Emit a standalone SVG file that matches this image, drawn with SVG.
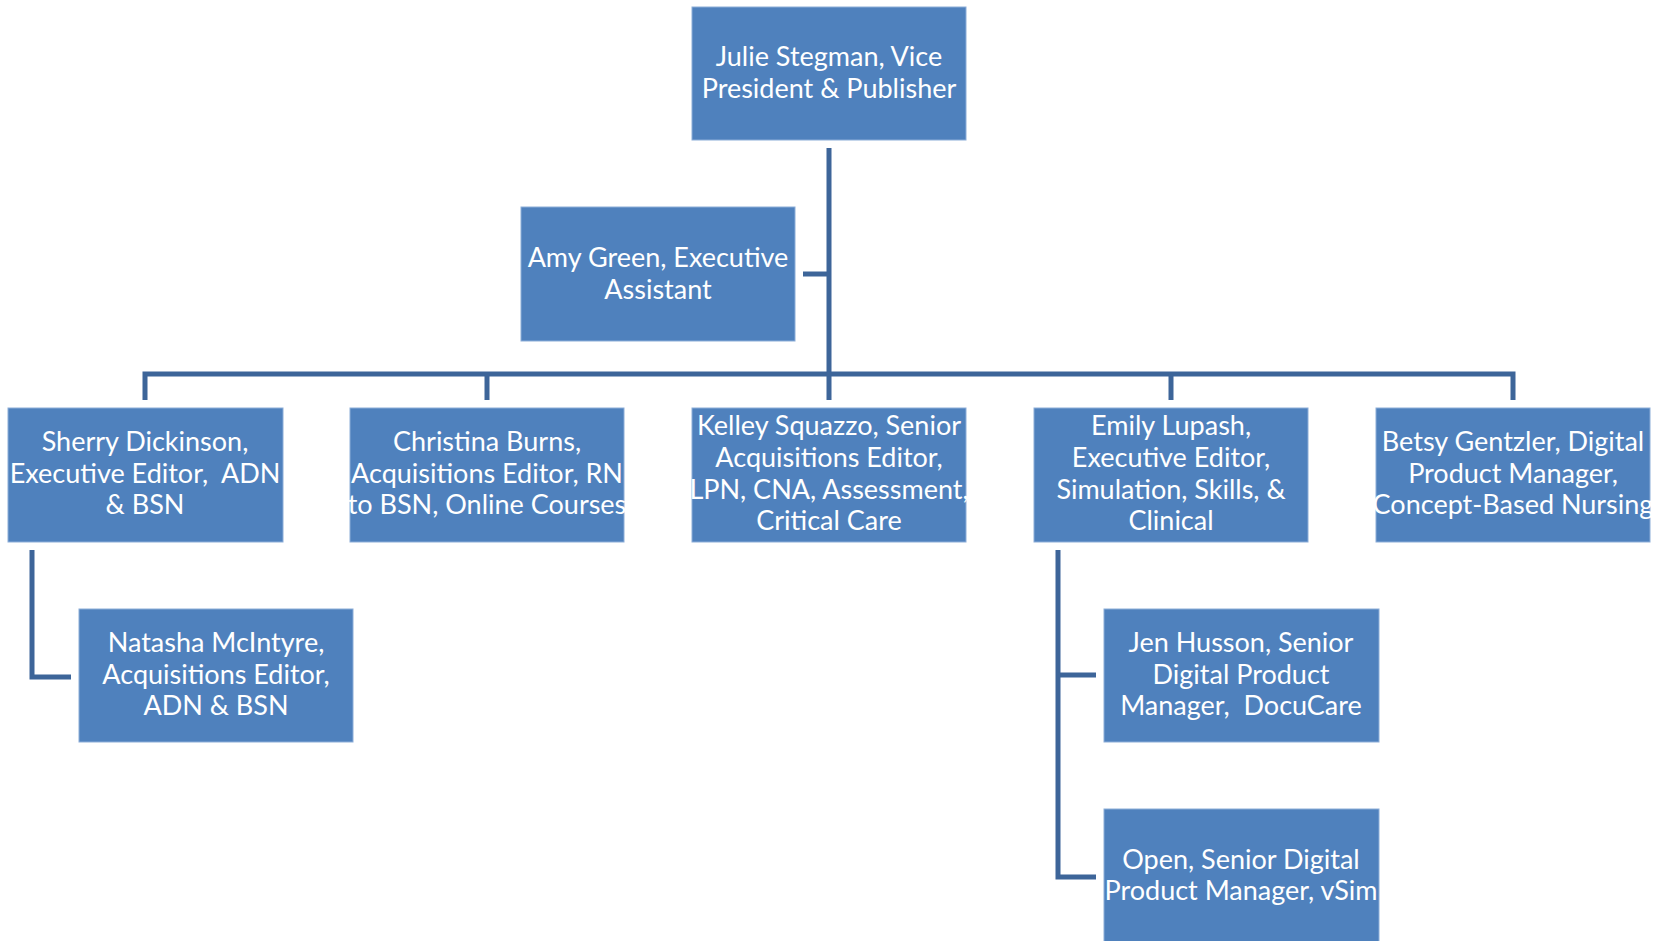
<svg xmlns="http://www.w3.org/2000/svg" width="1658" height="941" viewBox="0 0 1658 941">
<style>
.box{fill:#4F81BD;stroke:#8CADD8;stroke-width:1}
.t{font-family:Lato,"Open Sans",sans-serif;font-size:27px;fill:#FFFFFF;text-anchor:middle}
.c{fill:none;stroke:#3D6599;stroke-width:5;stroke-linejoin:miter;stroke-linecap:butt}
</style>
<rect width="1658" height="941" fill="#FFFFFF"/>
<g id="connectors">
<path class="c" d="M829,148 V400"/>
<path class="c" d="M145,400 V374 H1513 V400"/>
<path class="c" d="M487,374 V400"/>
<path class="c" d="M1171,374 V400"/>
<path class="c" d="M803,274 H829"/>
<path class="c" d="M32,550 V677 H71"/>
<path class="c" d="M1058,550 V877 H1096"/>
<path class="c" d="M1058,675 H1096"/>
</g>
<g id="julie">
<rect class="box" x="692" y="7" width="274" height="133"/>
<text class="t" x="829" y="66">Julie Stegman, Vice</text>
<text class="t" x="829" y="98">President &amp; Publisher</text>
</g>
<g id="amy">
<rect class="box" x="521" y="207" width="274" height="134"/>
<text class="t" x="658" y="267">Amy Green, Executive</text>
<text class="t" x="658" y="299">Assistant</text>
</g>
<g id="sherry">
<rect class="box" x="8" y="408" width="275" height="134"/>
<text class="t" x="145" y="451">Sherry Dickinson,</text>
<text class="t" x="145" y="483" xml:space="preserve">Executive Editor,  ADN</text>
<text class="t" x="145" y="514">&amp; BSN</text>
</g>
<g id="christina">
<rect class="box" x="350" y="408" width="274" height="134"/>
<text class="t" x="487" y="451">Christina Burns,</text>
<text class="t" x="487" y="483">Acquisitions Editor, RN</text>
<text class="t" x="487" y="514">to BSN, Online Courses</text>
</g>
<g id="kelley">
<rect class="box" x="692" y="408" width="274" height="134"/>
<text class="t" x="829" y="435">Kelley Squazzo, Senior</text>
<text class="t" x="829" y="467">Acquisitions Editor,</text>
<text class="t" x="829" y="499">LPN, CNA, Assessment,</text>
<text class="t" x="829" y="530">Critical Care</text>
</g>
<g id="emily">
<rect class="box" x="1034" y="408" width="274" height="134"/>
<text class="t" x="1171" y="435">Emily Lupash,</text>
<text class="t" x="1171" y="467">Executive Editor,</text>
<text class="t" x="1171" y="499">Simulation, Skills, &amp;</text>
<text class="t" x="1171" y="530">Clinical</text>
</g>
<g id="betsy">
<rect class="box" x="1376" y="408" width="274" height="134"/>
<text class="t" x="1513" y="451">Betsy Gentzler, Digital</text>
<text class="t" x="1513" y="483">Product Manager,</text>
<text class="t" x="1513" y="514">Concept-Based Nursing</text>
</g>
<g id="natasha">
<rect class="box" x="79" y="609" width="274" height="133"/>
<text class="t" x="216" y="652">Natasha McIntyre,</text>
<text class="t" x="216" y="684">Acquisitions Editor,</text>
<text class="t" x="216" y="715">ADN &amp; BSN</text>
</g>
<g id="jen">
<rect class="box" x="1104" y="609" width="275" height="133"/>
<text class="t" x="1241" y="652">Jen Husson, Senior</text>
<text class="t" x="1241" y="684">Digital Product</text>
<text class="t" x="1241" y="715" xml:space="preserve">Manager,  DocuCare</text>
</g>
<g id="open">
<rect class="box" x="1104" y="809" width="275" height="140"/>
<text class="t" x="1241" y="869">Open, Senior Digital</text>
<text class="t" x="1241" y="900">Product Manager, vSim</text>
</g>
</svg>
